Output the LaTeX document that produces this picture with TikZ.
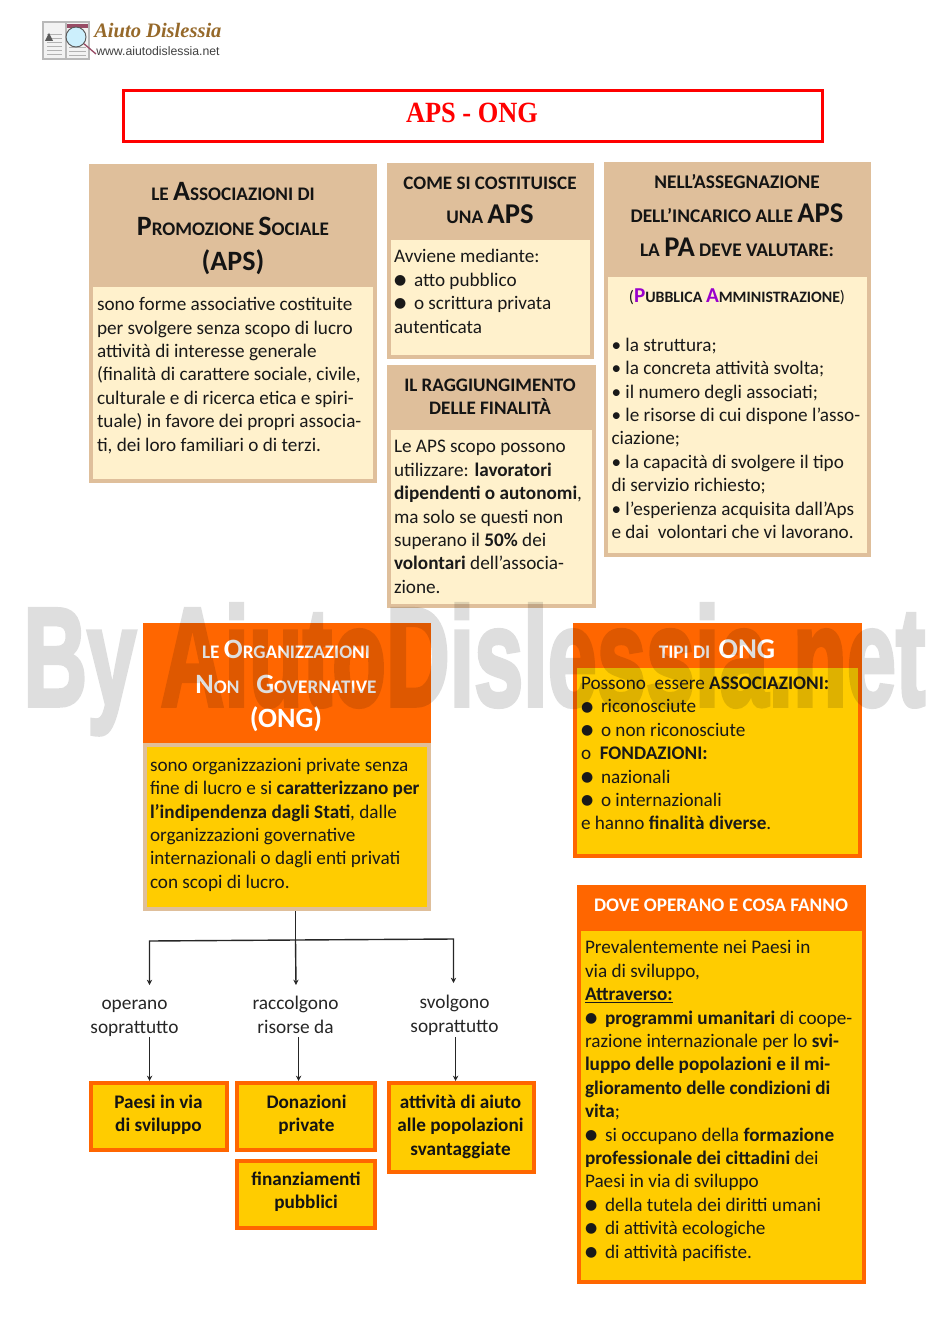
\documentclass[tikz,border=0pt]{standalone}
\usepackage{fontspec}
\setmainfont{Carlito}
\newfontfamily\djv{DejaVu Sans}
\newfontfamily\serifb{Liberation Serif}
\newfontfamily\arialf{Liberation Sans}
\newfontfamily\wmfont[BoldFeatures={FakeBold=3.2}]{Liberation Sans}
\usetikzlibrary{arrows.meta,calc}
\definecolor{tan}{HTML}{DFBF9B}
\definecolor{cream}{HTML}{FFF1CC}
\definecolor{ora}{HTML}{FF6600}
\definecolor{yel}{HTML}{FFCC00}
\definecolor{pur}{HTML}{9900CC}
\definecolor{brownl}{HTML}{96692A}
\newcommand{\sz}[2]{{\fontsize{#1}{#1}\selectfont #2}}
\newcommand{\bul}{\makebox[15pt][l]{\raisebox{1.3pt}{\djv\fontsize{10.5}{10.5}\selectfont ●}}}
\newcommand{\bx}[6]{\node[box,#1,minimum width={(#5-#3)*0.75pt},minimum height={(#6-#4)*0.75pt}] (#2) at (#3,#4) {};}
\tikzset{
  box/.style={anchor=north west,inner sep=0pt,outer sep=0pt,draw=none},
  body/.style={anchor=north west,inner sep=0pt,outer sep=0pt,align=left,font=\fontsize{14.4}{17.55}\selectfont,text=black!90},
  headt/.style={anchor=north,inner sep=0pt,outer sep=0pt,align=center,font=\bfseries\fontsize{14}{25}\selectfont,text=black!92},
  whead/.style={headt,text=white},
  mid/.style={anchor=north,inner sep=0pt,outer sep=0pt,align=center,font=\fontsize{14.5}{17.55}\selectfont,text=black!85},
  smallt/.style={anchor=north,inner sep=0pt,outer sep=0pt,align=center,font=\bfseries\fontsize{14.4}{17.55}\selectfont,text=black!92},
  arr/.style={draw=black!85,line width=1.05pt,-{Stealth[length=4pt,width=4pt]}},
  lin/.style={draw=black!85,line width=1.05pt},
  orbox/.style={fill=ora},
  tanbox/.style={fill=tan},
}
\begin{document}
\begin{tikzpicture}[x=0.75pt,y=-0.75pt]
\useasboundingbox (0,0) rectangle (950,1344);
% logo
\bx{fill=gray!55}{bookA}{42}{21}{90}{60}
\bx{fill=gray!10}{bookB}{44}{23}{65}{58}
\bx{fill=gray!10}{bookC}{67}{23}{88}{58}
\foreach \yy in {34,38,42,46,50,54}{\draw[gray!60,line width=0.4pt] (47,\yy) -- (62,\yy);}
\fill[gray!70!black] (45,41) -- (49,33) -- (53,41) -- cycle;
\foreach \yy in {47,51,55}{\draw[gray!60,line width=0.4pt] (69,\yy) -- (86,\yy);}
\fill[purple!40!gray] (67,24) rectangle (88,28);
\node[circle,draw=gray!70!black,fill=cyan!20,line width=0.7pt,minimum size=15pt,inner sep=0pt] (lens) at (76,37) {};
\coordinate (lensend) at (96,54);
\draw[draw=gray!60!purple,line width=1pt] (lens) -- (lensend);
\node[anchor=base west,inner sep=0pt,text=brownl,font=\serifb\bfseries\itshape\fontsize{15.4}{15.4}\selectfont] (logot) at (94,38) {Aiuto Dislessia};
\node[anchor=base west,inner sep=0pt,text=black!75,font=\arialf\fontsize{9.2}{9.2}\selectfont] (logou) at (96,55.5) {www.aiutodislessia.net};
% title
\node[box,draw=red,line width=2.2pt,minimum width={699*0.75pt},minimum height={51*0.75pt}] (title) at (123.5,90.5) {};
\node[inner sep=0pt,text=red,font=\serifb\bfseries\fontsize{22}{22}\selectfont,xscale=0.9,transform shape] (titlet) at (472,113) {APS - ONG};
% Box A
\bx{tanbox}{aO}{89}{164}{377}{483}
\bx{fill=cream}{aI}{93}{287}{373}{479}
\node[headt,font=\bfseries\fontsize{14}{26.3}\selectfont] (aH) at (233,182.5) {\sz{14.4}{LE }\sz{21}{A}\sz{14.4}{SSOCIAZIONI DI}\\\sz{21}{P}\sz{14.4}{ROMOZIONE }\sz{21}{S}\sz{14.4}{OCIALE}\\\sz{21}{(APS)}};
\node[body] (aT) at (97,297.5) {sono forme associative costituite\\per svolgere senza scopo di lucro\\attività di interesse generale\\(finalità di carattere sociale, civile,\\culturale e di ricerca etica e spiri-\\tuale) in favore dei propri associa-\\ti, dei loro familiari o di terzi.};
% Box B
\bx{tanbox}{bO}{387}{163}{594}{359}
\bx{fill=cream}{bI}{391}{240}{590}{355}
\node[headt,font=\bfseries\fontsize{14.3}{25.5}\selectfont] (bH) at (490,177) {COME SI COSTITUISCE\\\sz{14.4}{UNA }\sz{21.5}{APS}};
\node[body] (bT) at (394,249.5) {Avviene mediante:\\\bul atto pubblico\\\bul o scrittura privata\\autenticata};
% Box C
\bx{tanbox}{cO}{387}{365}{596}{608}
\bx{fill=cream}{cI}{391}{430}{592}{604}
\node[headt,font=\bfseries\fontsize{14.3}{17.5}\selectfont] (cH) at (490,379) {IL RAGGIUNGIMENTO\\DELLE FINALITÀ};
\node[body] (cT) at (394,440.5) {Le APS scopo possono\\utilizzare: \textbf{lavoratori}\\\textbf{dipendenti o autonomi},\\ma solo se questi non\\superano il \textbf{50\%} dei\\\textbf{volontari} dell’associa-\\zione.};
% Box D
\bx{tanbox}{dO}{604}{162}{871}{557}
\bx{fill=cream}{dI}{608}{277}{867}{553}
\node[headt,font=\bfseries\fontsize{14.5}{25.5}\selectfont] (dH) at (737,174.5) {NELL’ASSEGNAZIONE\\DELL’INCARICO ALLE \sz{21.4}{APS}\\LA \sz{21.4}{PA} DEVE VALUTARE:};
\node[anchor=base,inner sep=0pt,font=\bfseries\fontsize{11.9}{11.9}\selectfont,text=black!90] (dP) at (737,303) {\textmd{\fontsize{12.5}{12.5}\selectfont(}\sz{15.9}{\textcolor{pur}{P}}UBBLICA \sz{15.9}{\textcolor{pur}{A}}MMINISTRAZIONE\textmd{\fontsize{12.5}{12.5}\selectfont)}};
\node[body] (dT) at (611.5,338) {• la struttura;\\• la concreta attività svolta;\\• il numero degli associati;\\• le risorse di cui dispone l’asso-\\ciazione;\\• la capacità di svolgere il tipo\\di servizio richiesto;\\• l’esperienza acquisita dall’Aps\\e dai\ \ volontari che vi lavorano.};
% ONG
\bx{tanbox}{eO}{143}{743}{431}{911}
\bx{orbox}{eH}{143}{623}{431}{743}
\bx{fill=yel}{eI}{147}{747}{427}{907}
\node[whead,font=\bfseries\fontsize{14}{25.9}\selectfont] (eHt) at (286,640.5) {\sz{14.4}{LE }\sz{21}{O}\sz{14.4}{RGANIZZAZIONI}\\\sz{21}{N}\sz{14.4}{ON}\ \ \ \ \sz{21}{G}\sz{14.4}{OVERNATIVE}\\\sz{21}{(ONG)}};
\node[body] (eT) at (150,758) {sono organizzazioni private senza\\fine di lucro e si \textbf{caratterizzano per}\\\textbf{l’indipendenza dagli Stati}, dalle\\organizzazioni governative\\internazionali o dagli enti privati\\con scopi di lucro.};
% Tipi
\bx{orbox}{fO}{573}{623}{862}{858}
\bx{fill=yel}{fI}{577}{668}{858}{854}
\node[whead] (fH) at (717,640) {\sz{14.4}{TIPI DI}\ \ \sz{21.5}{ONG}};
\node[body] (fT) at (581,677) {Possono\ \ essere \textbf{ASSOCIAZIONI:}\\\bul riconosciute\\\bul o non riconosciute\\o\ \ \textbf{FONDAZIONI:}\\\bul nazionali\\\bul o internazionali\\e hanno \textbf{finalità diverse}.};
% Dove
\bx{orbox}{gO}{577}{885}{866}{1284}
\bx{fill=yel}{gI}{581}{931}{862}{1280}
\node[whead,font=\bfseries\fontsize{14.4}{17}\selectfont] (gH) at (721,899) {DOVE OPERANO E COSA FANNO};
\node[body] (gT) at (585,940.5) {Prevalentemente nei Paesi in\\via di sviluppo,\\\textbf{\underline{Attraverso:}}\\\bul\textbf{programmi umanitari} di coope-\\razione internazionale per lo \textbf{svi-}\\\textbf{luppo delle popolazioni e il mi-}\\\textbf{glioramento delle condizioni di}\\\textbf{vita};\\\bul si occupano della \textbf{formazione}\\\textbf{professionale dei cittadini} dei\\Paesi in via di sviluppo\\\bul della tutela dei diritti umani\\\bul di attività ecologiche\\\bul di attività pacifiste.};
% small boxes
\bx{orbox}{hO}{89}{1081}{229}{1152}
\bx{fill=yel}{hI}{93}{1085}{225}{1148}
\bx{orbox}{iO}{235}{1081}{377}{1152}
\bx{fill=yel}{iI}{239}{1085}{373}{1148}
\bx{orbox}{jO}{235}{1159}{377}{1230}
\bx{fill=yel}{jI}{239}{1163}{373}{1226}
\bx{orbox}{kO}{387}{1081}{536}{1174}
\bx{fill=yel}{kI}{391}{1085}{532}{1170}
\node[smallt] (hT) at (158.5,1095) {Paesi in via\\di sviluppo};
\node[smallt] (iT) at (306.5,1095) {Donazioni\\private};
\node[smallt] (jT) at (306,1172) {finanziamenti\\pubblici};
\node[smallt] (kT) at (460.5,1095) {attività di aiuto\\alle popolazioni\\svantaggiate};
% labels
\node[mid] (l1) at (134.5,1000.5) {operano\\soprattutto};
\node[mid] (l2) at (295.5,996.5) {raccolgono\\risorse da};
\node[mid] (l3) at (454.5,995.5) {svolgono\\soprattutto};
% connectors
\coordinate (junc) at (295.5,940);
\coordinate (jl) at (149.5,941);
\coordinate (jr) at (453.5,939);
\coordinate (ad) at (149.5,985);
\coordinate (bd) at (296,985);
\coordinate (cd) at (453.5,983);
\coordinate (a2) at (149.6,1037);
\coordinate (b2) at (298.6,1037);
\coordinate (c2) at (455.6,1037);
\draw[lin] (eO.south -| junc) -- (junc);
\draw[arr] (junc) -- (jl) -- (ad);
\draw[arr] (junc) -- (bd);
\draw[arr] (junc) -- (jr) -- (cd);
\draw[arr] (a2) -- (hO.north -| a2);
\draw[arr] (b2) -- (iO.north -| b2);
\draw[arr] (c2) -- (kO.north -| c2);
% watermark
\begin{scope}[transparency group,opacity=0.13]
\node[anchor=base west,inner sep=0pt,outer sep=0pt,text=black,font=\wmfont\bfseries\fontsize{105}{105}\selectfont,xscale=0.63,transform shape] (wm) at (23.5,705.5) {By AiutoDislessia.net};
\end{scope}
\end{tikzpicture}
\end{document}
